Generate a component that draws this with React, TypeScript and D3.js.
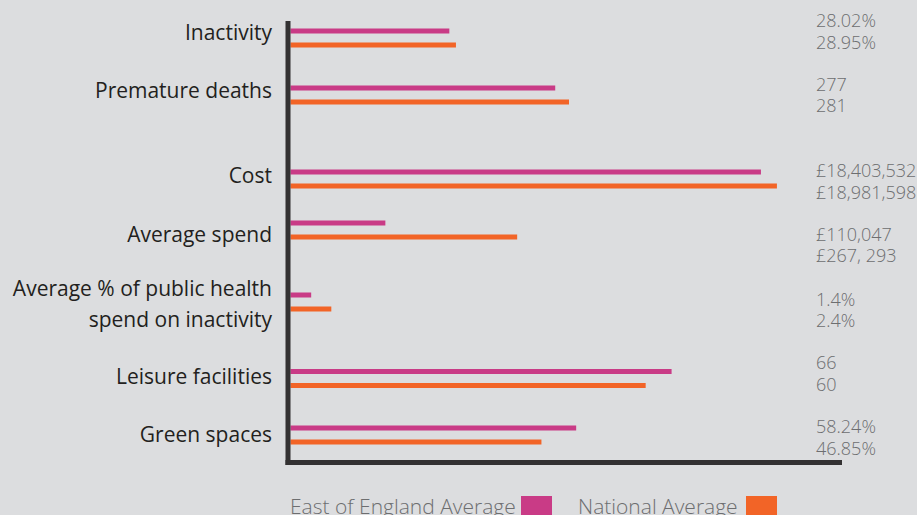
import React from "react";
import * as d3 from "d3";

// ---- data ----
const categories = [
  "Inactivity",
  "Premature deaths",
  "Cost",
  "Average spend",
  "Average % of public health\nspend on inactivity",
  "Leisure facilities",
  "Green spaces",
];
const seriesNames = ["East of England Average", "National Average"];
// bar lengths as drawn (index, 0-100 of the axis length)
const eastScore = [28.8, 48.0, 85.3, 17.2, 3.75, 69.1, 51.8];
const nationalScore = [30.0, 50.5, 88.2, 41.1, 7.4, 64.4, 45.5];
const eastLabels = ["28.02%", "277", "£18,403,532", "£110,047", "1.4%", "66", "58.24%"];
const nationalLabels = ["28.95%", "281", "£18,981,598", "£267, 293", "2.4%", "60", "46.85%"];

// ---- layout ----
const W = 917;
const H = 515;
const ROW_Y = [38, 95, 179, 230, 302, 378.5, 435];
const CAT_Y = [40, 98.3, 183.3, 241.7, 296, 384.3, 441.7];
const VAL_Y = [27.3, 90.7, 177.3, 240.7, 305.7, 369.3, 433.3];
const COLORS = ["#c93b86", "#f26427"];
const BG = "#dcdddf";
const AXIS = "#333132";

export default function App() {
  const x = d3.scaleLinear().domain([0, 100]).range([290.5, 842]);
  const series = [eastScore, nationalScore];
  const barH = 5;
  const font = "'Open Sans', sans-serif";
  return (
    <svg
      width={W}
      height={H}
      style={{ position: "absolute", left: 0, top: 0, background: BG }}
    >
      <rect x={0} y={0} width={W} height={H} fill={BG} />
      {/* bars */}
      {series.map((vals, si) =>
        vals.map((v, i) => (
          <rect
            key={`b${si}-${i}`}
            x={x(0)}
            y={ROW_Y[i] + (si === 0 ? -7 : 7) - barH / 2}
            width={x(v) - x(0)}
            height={barH}
            fill={COLORS[si]}
          />
        ))
      )}
      {/* axes */}
      <line x1={288} x2={288} y1={21} y2={465} stroke={AXIS} strokeWidth={5} />
      <line x1={285.5} x2={842} y1={462.5} y2={462.5} stroke={AXIS} strokeWidth={5} />
      {/* category labels */}
      {categories.map((c, i) => {
        const lines = c.split("\n");
        return (
          <text
            key={`c${i}`}
            x={272}
            y={CAT_Y[i]}
            textAnchor="end"
            fontFamily={font}
            fontSize={21}
            fill="#231f20"
          >
            {lines.map((l, j) => (
              <tspan key={j} x={272} dy={j === 0 ? 0 : 30.5}>
                {l}
              </tspan>
            ))}
          </text>
        );
      })}
      {/* value labels */}
      {categories.map((_, i) => (
        <g key={`v${i}`} fontFamily={font} fontWeight={300} fontSize={18} fill="#6d6e70">
          <text x={816} y={VAL_Y[i]}>{eastLabels[i]}</text>
          <text x={816} y={VAL_Y[i] + 21.5}>{nationalLabels[i]}</text>
        </g>
      ))}
      {/* legend */}
      <g fontFamily={font} fontWeight={300} fontSize={21} fill="#6d6e70">
        <text x={290} y={513.5}>{seriesNames[0]}</text>
        <rect x={521} y={496} width={31} height={25} fill={COLORS[0]} />
        <text x={578} y={513.5}>{seriesNames[1]}</text>
        <rect x={746} y={496} width={31} height={25} fill={COLORS[1]} />
      </g>
    </svg>
  );
}
